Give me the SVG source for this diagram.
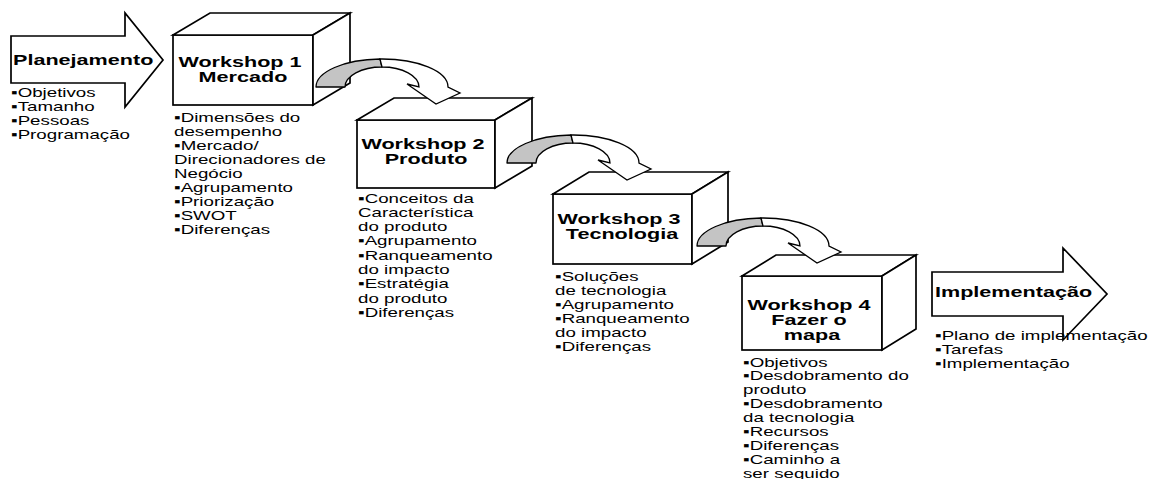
<svg xmlns="http://www.w3.org/2000/svg" xmlns:xlink="http://www.w3.org/1999/xlink" width="1153" height="479" viewBox="0 0 1153 479">
  <style>
    .box { fill: #ffffff; stroke: #000000; stroke-width: 1.7; stroke-linejoin: miter; }
    .lst { font-family: "Liberation Sans", Arial, sans-serif; font-size: 13px; fill: #000000; }
    .ttl { font-family: "Liberation Sans", Arial, sans-serif; font-size: 15px; font-weight: bold; fill: #000000; }
    .mid { text-anchor: middle; }
    .back { fill: #c4c4c4; stroke: #000000; stroke-width: 1.3; stroke-linejoin: round; }
    .front { fill: #ffffff; stroke: #000000; stroke-width: 1.3; stroke-linejoin: miter; }
  </style>
  <defs>
    <!-- curved ribbon arrow: shaded back leg on the left, light front leg ending in a downward head -->
    <g id="curveArrow">
      <path class="back" d="M0,2 A66,28 0 0 1 64,-26 L66,-18 A37,20 0 0 0 29,2 Z"/>
      <path class="front" d="M64,-26 A66,28 0 0 1 132,2 L144,8 L120,19 L91,-1 L103,2 A37,20 0 0 0 66,-18 Z"/>
    </g>
  </defs>

  <rect width="1153" height="479" fill="#ffffff"/>

  <!-- start block arrow -->
  <g id="planejamento">
    <polygon class="box" points="11,36 125,36 125,13 163,60 125,107 125,83 11,83"/>
    <text class="ttl" transform="translate(13 65) scale(1.44 1)">Planejamento</text>
    <text class="lst" transform="translate(11 96.5) scale(1.44 1)">
      <tspan x="0" y="0">▪Objetivos</tspan>
      <tspan x="0" y="14.3">▪Tamanho</tspan>
      <tspan x="0" y="28.6">▪Pessoas</tspan>
      <tspan x="0" y="42.9">▪Programação</tspan>
    </text>
  </g>

  <!-- workshop 1 -->
  <g id="workshop1">
    <rect class="box" x="173" y="35" width="140" height="70"/>
    <polygon class="box" points="173,35 210,13 350,13 313,35"/>
    <polygon class="box" points="313,35 350,13 350,83 313,105"/>
    <text class="ttl mid" transform="translate(243 67) scale(1.44 1)">
      <tspan x="0" y="0">Workshop 1</tspan>
      <tspan x="0" y="15.5">Mercado</tspan>
    </text>
    <text class="lst" transform="translate(174 121.5) scale(1.44 1)">
      <tspan x="0" y="0">▪Dimensões do</tspan>
      <tspan x="0" y="14.1">desempenho</tspan>
      <tspan x="0" y="28.2">▪Mercado/</tspan>
      <tspan x="0" y="42.3">Direcionadores de</tspan>
      <tspan x="0" y="56.4">Negócio</tspan>
      <tspan x="0" y="70.5">▪Agrupamento</tspan>
      <tspan x="0" y="84.6">▪Priorização</tspan>
      <tspan x="0" y="98.7">▪SWOT</tspan>
      <tspan x="0" y="112.8">▪Diferenças</tspan>
    </text>
  </g>

  <!-- workshop 2 -->
  <g id="workshop2">
    <rect class="box" x="357" y="120" width="138" height="68"/>
    <polygon class="box" points="357,120 394,98 532,98 495,120"/>
    <polygon class="box" points="495,120 532,98 532,166 495,188"/>
    <text class="ttl mid" transform="translate(426 148.5) scale(1.44 1)">
      <tspan x="0" y="0">Workshop 2</tspan>
      <tspan x="0" y="15.5">Produto</tspan>
    </text>
    <text class="lst" transform="translate(358 202.5) scale(1.44 1)">
      <tspan x="0" y="0">▪Conceitos da</tspan>
      <tspan x="0" y="14.3">Característica</tspan>
      <tspan x="0" y="28.6">do produto</tspan>
      <tspan x="0" y="42.9">▪Agrupamento</tspan>
      <tspan x="0" y="57.2">▪Ranqueamento</tspan>
      <tspan x="0" y="71.5">do impacto</tspan>
      <tspan x="0" y="85.8">▪Estratégia</tspan>
      <tspan x="0" y="100.1">do produto</tspan>
      <tspan x="0" y="114.4">▪Diferenças</tspan>
    </text>
  </g>

  <!-- workshop 3 -->
  <g id="workshop3">
    <rect class="box" x="553" y="194" width="139" height="70"/>
    <polygon class="box" points="553,194 589,172 728,172 692,194"/>
    <polygon class="box" points="692,194 728,172 728,242 692,264"/>
    <text class="ttl mid" transform="translate(622 223.5) scale(1.44 1)">
      <tspan x="0" y="0">Workshop 3</tspan>
      <tspan x="0" y="15.5">Tecnologia</tspan>
    </text>
    <text class="lst" transform="translate(555 280.5) scale(1.44 1)">
      <tspan x="0" y="0">▪Soluções</tspan>
      <tspan x="0" y="14.2">de tecnologia</tspan>
      <tspan x="0" y="28.4">▪Agrupamento</tspan>
      <tspan x="0" y="42.6">▪Ranqueamento</tspan>
      <tspan x="0" y="56.8">do impacto</tspan>
      <tspan x="0" y="71">▪Diferenças</tspan>
    </text>
  </g>

  <!-- workshop 4 -->
  <g id="workshop4">
    <rect class="box" x="742" y="276" width="140" height="74"/>
    <polygon class="box" points="742,276 776,255 916,255 882,276"/>
    <polygon class="box" points="882,276 916,255 916,329 882,350"/>
    <text class="ttl mid" transform="translate(812 309.5) scale(1.44 1)">
      <tspan x="0" y="0">Workshop 4</tspan>
      <tspan x="0" y="15.5">Fazer o</tspan>
      <tspan x="0" y="31">mapa</tspan>
    </text>
    <text class="lst" transform="translate(743 366.5) scale(1.44 1)">
      <tspan x="0" y="0">▪Objetivos</tspan>
      <tspan x="0" y="14">▪Desdobramento do</tspan>
      <tspan x="0" y="28">produto</tspan>
      <tspan x="0" y="42">▪Desdobramento</tspan>
      <tspan x="0" y="56">da tecnologia</tspan>
      <tspan x="0" y="70">▪Recursos</tspan>
      <tspan x="0" y="84">▪Diferenças</tspan>
      <tspan x="0" y="98">▪Caminho a</tspan>
      <tspan x="0" y="112">ser seguido</tspan>
    </text>
  </g>

  <!-- end block arrow -->
  <g id="implementacao">
    <polygon class="box" points="932,272 1063,272 1063,248 1107,294 1063,340 1063,316 932,316"/>
    <text class="ttl" transform="translate(935 297) scale(1.44 1)">Implementação</text>
    <text class="lst" transform="translate(935 339.5) scale(1.44 1)">
      <tspan x="0" y="0">▪Plano de implementação</tspan>
      <tspan x="0" y="14.2">▪Tarefas</tspan>
      <tspan x="0" y="28.4">▪Implementação</tspan>
    </text>
  </g>

  <!-- curved arrows between the workshops -->
  <g id="connectors">
    <use xlink:href="#curveArrow" transform="translate(316 85)"/>
    <use xlink:href="#curveArrow" transform="translate(507 161)"/>
    <use xlink:href="#curveArrow" transform="translate(697 244)"/>
  </g>
</svg>
